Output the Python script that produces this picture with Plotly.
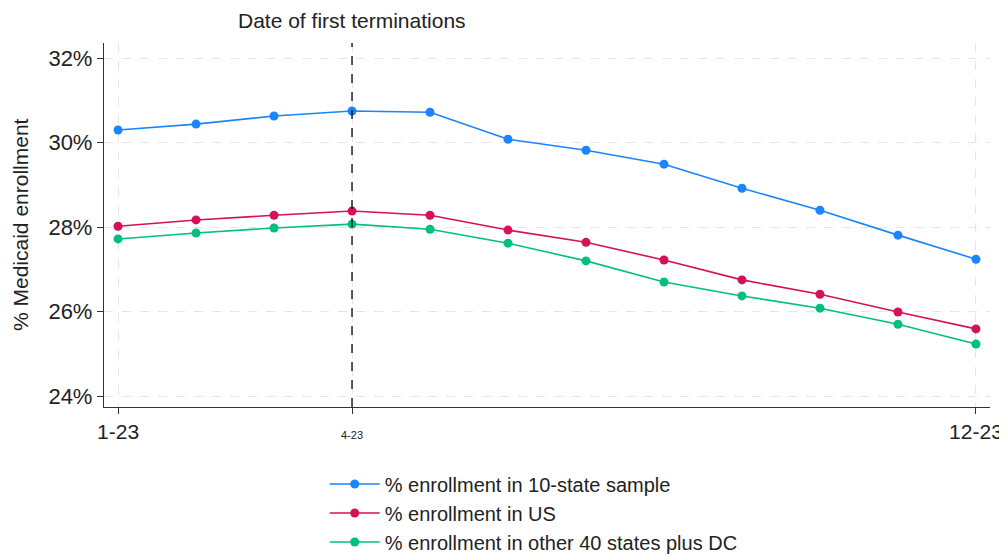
import plotly.graph_objects as go

months = list(range(1, 13))
month_labels = ["1-23", "2-23", "3-23", "4-23", "5-23", "6-23", "7-23", "8-23", "9-23", "10-23", "11-23", "12-23"]
sample10 = [30.30, 30.44, 30.63, 30.75, 30.72, 30.08, 29.82, 29.49, 28.92, 28.40, 27.81, 27.24]
us = [28.02, 28.17, 28.28, 28.38, 28.28, 27.93, 27.64, 27.22, 26.75, 26.41, 25.99, 25.59]
other40 = [27.72, 27.86, 27.98, 28.07, 27.95, 27.62, 27.20, 26.70, 26.37, 26.08, 25.70, 25.23]

series_names = ["% enrollment in 10-state sample", "% enrollment in US", "% enrollment in other 40 states plus DC"]
series_colors = ["#1a85ff", "#d41159", "#00bf7f"]
y_ticks = [24, 26, 28, 30, 32]
x_tickvals = [1, 4, 12]
x_ticktext = ["1-23", "<span style='font-size:11px'>4-23</span>", "12-23"]

fig = go.Figure()
for name, vals, col in zip(series_names, [sample10, us, other40], series_colors):
    fig.add_trace(go.Scatter(x=months, y=vals, mode="lines+markers", name=name,
                             line=dict(color=col, width=1.6),
                             marker=dict(color=col, size=9)))

fig.add_vline(x=4, line=dict(color="black", width=1.3, dash="dash"))
fig.add_annotation(x=4, y=1, xref="x", yref="paper", yanchor="bottom", yshift=9,
                   text="Date of first terminations", showarrow=False,
                   font=dict(size=21, color="#222"))
fig.add_annotation(x=0, y=0.5, xref="paper", yref="paper", xanchor="center", yanchor="middle",
                   xshift=-84, textangle=-90, text="% Medicaid enrollment", showarrow=False,
                   font=dict(size=21, color="#222"))

fig.update_layout(
    width=999, height=549,
    margin=dict(l=96, r=17, t=35, b=150, autoexpand=False),
    plot_bgcolor="white", paper_bgcolor="white",
    font=dict(family="Liberation Sans, Arial, sans-serif", color="#222", size=16),
    showlegend=True,
    legend=dict(orientation="v", x=0.485, xanchor="center", y=-0.158, yanchor="top",
                font=dict(size=20), itemwidth=50, tracegroupgap=0),
)
fig.update_xaxes(range=[0.82, 12.18], tickvals=x_tickvals, ticktext=x_ticktext,
                 showgrid=True, gridcolor="#e6e6e6", griddash="dash", gridwidth=1.3,
                 showline=True, linecolor="#333", linewidth=1.3, automargin=False,
                 ticks="outside", ticklen=6, tickcolor="#333", zeroline=False,
                 tickfont=dict(size=21))
fig.update_yaxes(range=[23.74, 32.36], tickvals=y_ticks, ticktext=[f"{v}%" for v in y_ticks],
                 showgrid=True, gridcolor="#e6e6e6", griddash="dash", gridwidth=1.3,
                 showline=True, linecolor="#333", linewidth=1.3, automargin=False,
                 ticks="outside", ticklen=6, tickcolor="#333", zeroline=False,
                 tickfont=dict(size=22))

fig.write_html("out.html")
